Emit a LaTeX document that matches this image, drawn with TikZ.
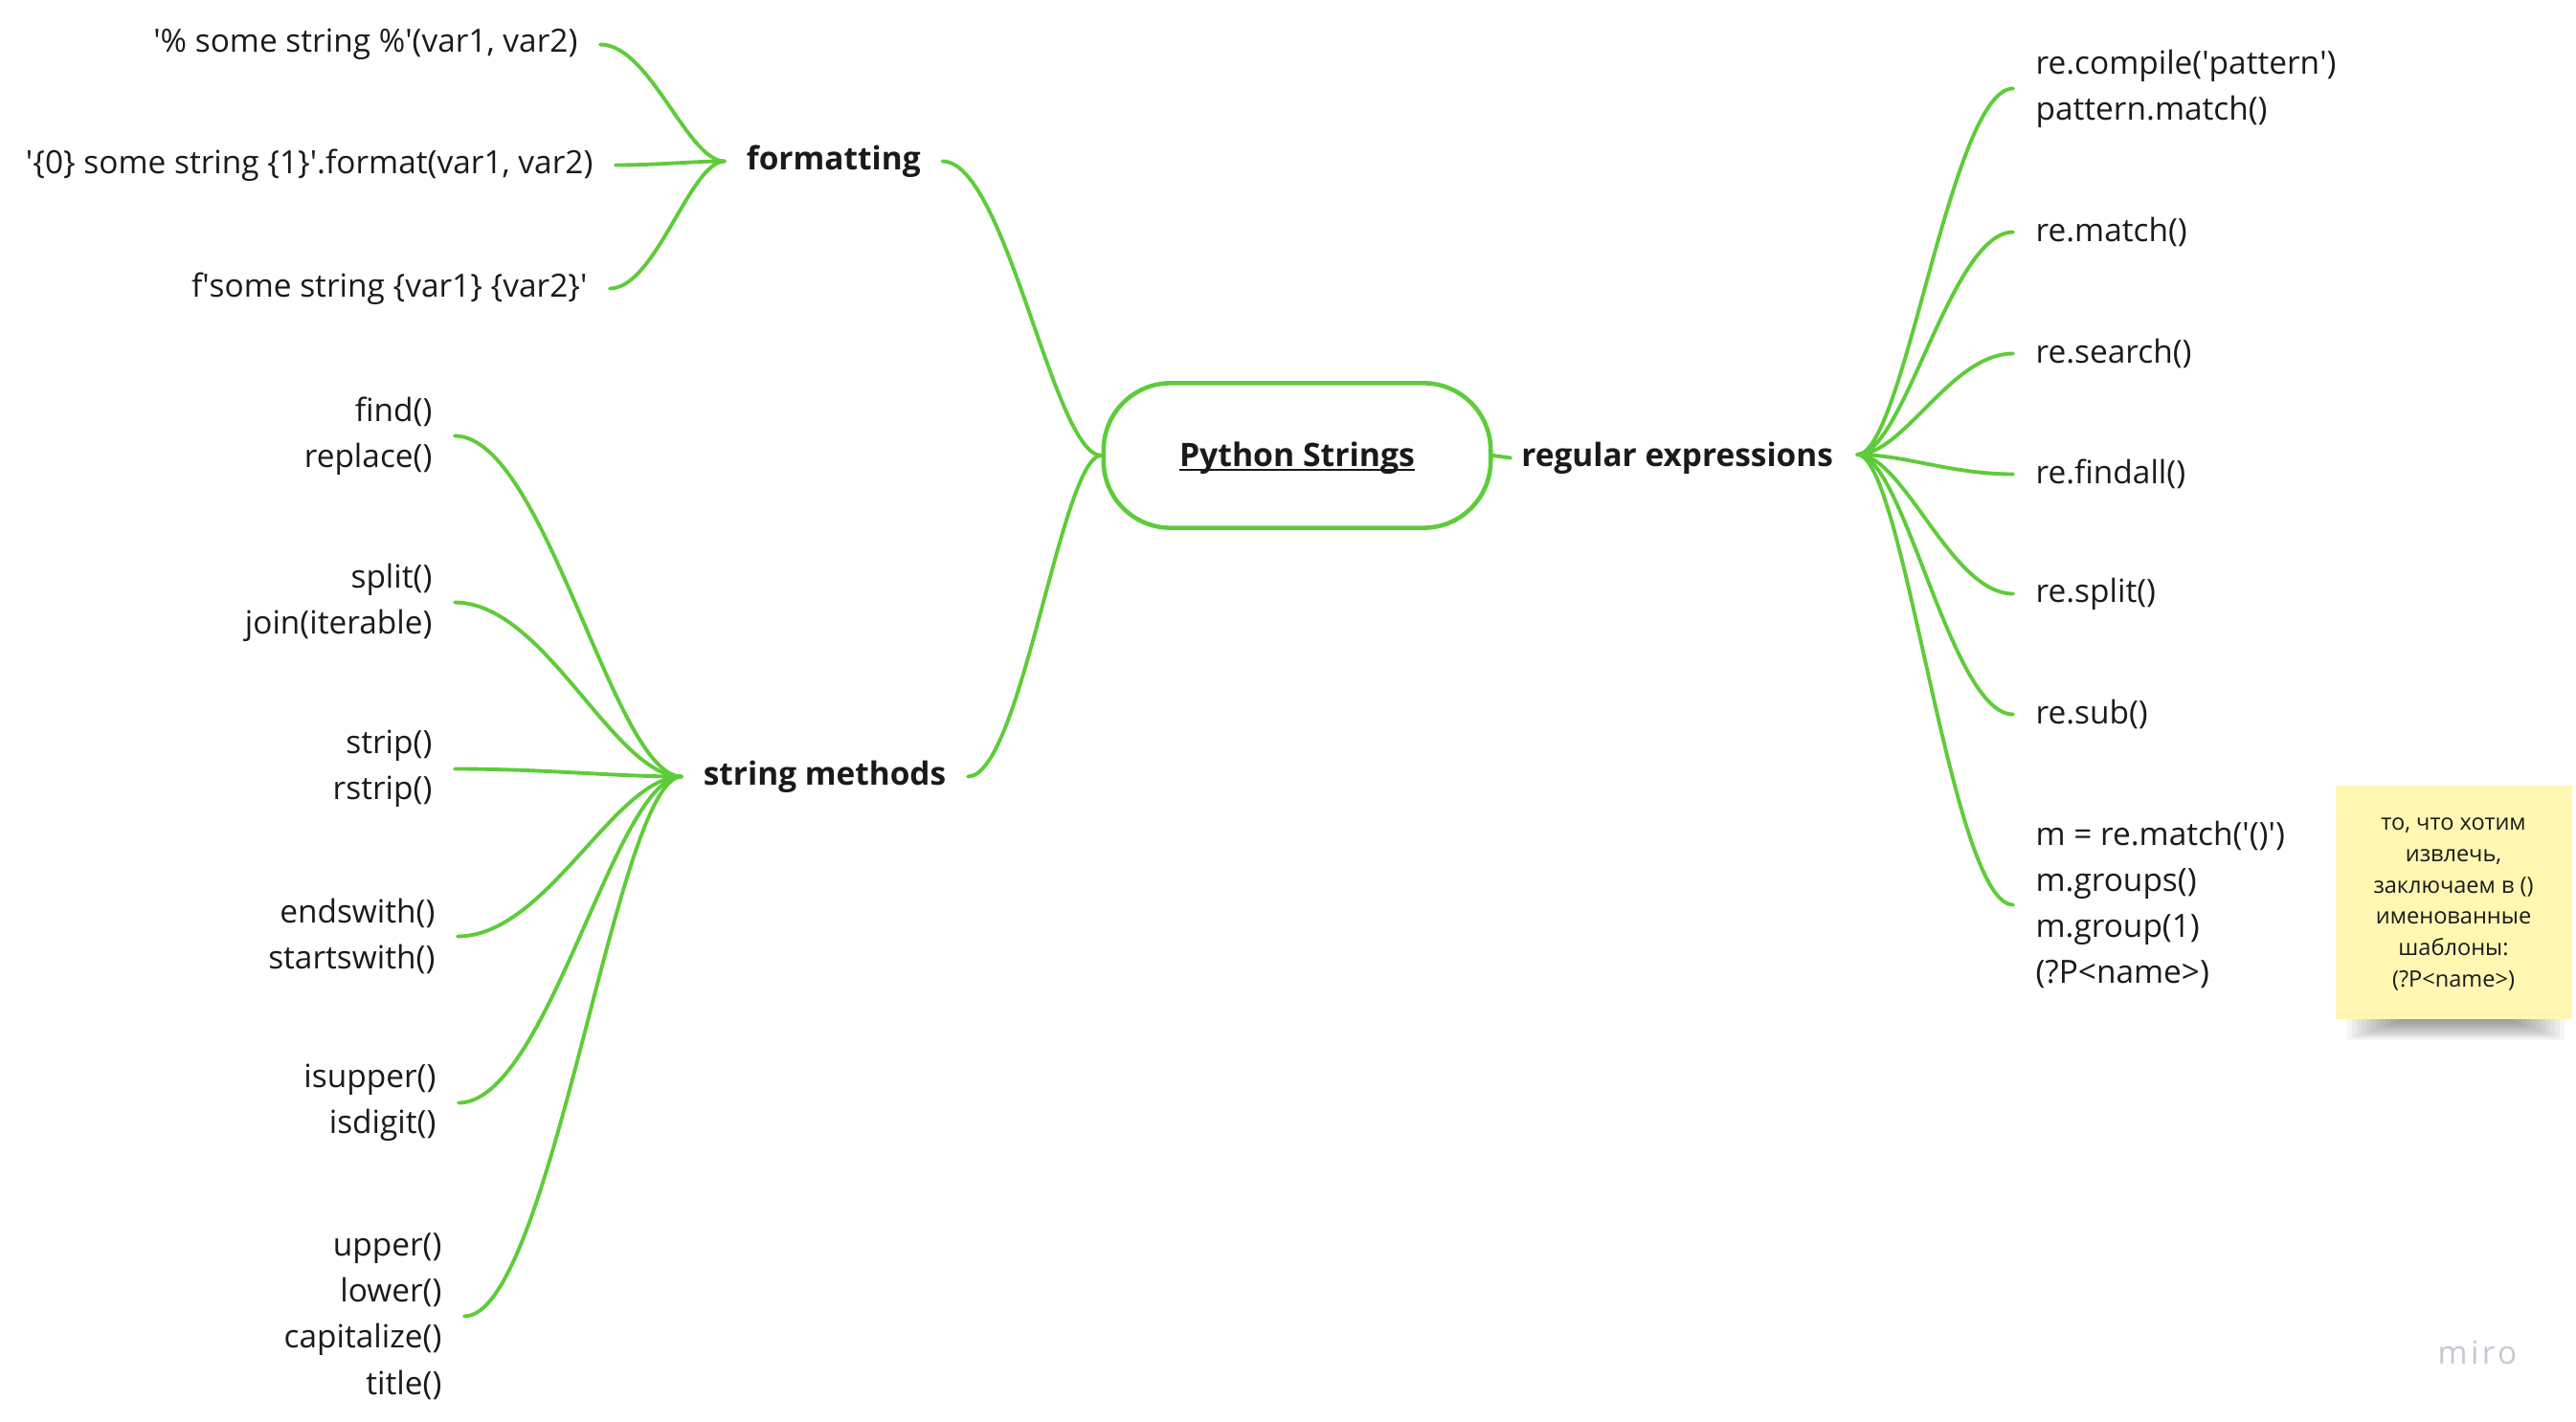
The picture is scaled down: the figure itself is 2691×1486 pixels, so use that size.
\documentclass[tikz,border=0pt]{standalone}
\usepackage{fontspec}
\setmainfont{Open Sans}
\newfontfamily\logofont[LetterSpace=10]{Open Sans}
\usetikzlibrary{calc}
\definecolor{mapgreen}{RGB}{93,204,56}
\definecolor{inkblack}{RGB}{26,26,26}
\definecolor{noteyellow}{RGB}{255,247,178}
\definecolor{logogray}{RGB}{200,200,210}
\newcommand\squote{\textquotesingle}
\newcommand\baseline[1]{\setbox0=\hbox{#1}\rlap{\rule[-1.4pt]{\wd0}{0.8pt}}\box0}
\tikzset{
  link/.style={draw=mapgreen, line width=1.1pt, line cap=round},
  branch/.style={to path={.. controls ($(\tikztostart)!.4!(\tikztotarget |- \tikztostart)$) and ($(\tikztotarget)!.3!(\tikztostart |- \tikztotarget)$) .. (\tikztotarget)}},
  leafL/.style={anchor=east, align=right, inner xsep=6.5pt, inner ysep=0pt, yshift=-1pt, text=inkblack, font=\fontsize{9.5}{13.7}\selectfont},
  leafR/.style={anchor=west, align=left, inner xsep=6.5pt, inner ysep=0pt, yshift=-1pt, text=inkblack, font=\fontsize{9.5}{13.7}\selectfont},
  topic/.style={anchor=west, inner xsep=6.3pt, inner ysep=0pt, yshift=-1pt, text=inkblack, font=\fontsize{9.5}{13.7}\selectfont\bfseries},
  rootbox/.style={draw=mapgreen, line width=1.3pt, rounded corners=0.7cm, minimum width=115pt, minimum height=43pt, text depth=0.8pt, text=inkblack, font=\fontsize{9.6}{13.7}\selectfont\bfseries},
  notetext/.style={align=center, inner sep=0pt, text=inkblack, font=\fontsize{6.7}{9.3}\selectfont},
}
\begin{document}
\begin{tikzpicture}[x=0.01cm, y=-0.01cm]
\useasboundingbox (0,0) rectangle (2691,1486);

\node[rootbox] (root) at (1355,476) {\baseline{Python Strings}};
\node[topic] (fmt) at (757,165) {formatting};
\node[topic] (meth) at (712,808) {string methods};
\node[topic, inner xsep=3pt] (regex) at (1578,475) {regular expressions};
\coordinate (rehub) at ([xshift=4pt,yshift=1pt]regex.east);

\node[leafL] (f1) at (627,43) {\squote\% some string \%\squote(var1, var2)};
\node[leafL] (f2) at (643,169) {\squote\{0\} some string \{1\}\squote.format(var1, var2)};
\node[leafL] (f3) at (637,298) {f\squote{}some string \{var1\} \{var2\}\squote};

\node[leafL] (m1) at (475,452) {find()\\replace()};
\node[leafL] (m2) at (475,626) {split()\\join(iterable)};
\node[leafL] (m3) at (475,800) {strip()\\rstrip()};
\node[leafL] (m4) at (478,975) {endswith()\\startswith()};
\node[leafL] (m5) at (479,1149) {isupper()\\isdigit()};
\node[leafL] (m6) at (485,1372) {upper()\\lower()\\capitalize()\\title()};

\node[leafR] (r1) at (2103,89) {re.compile(\squote{}pattern\squote)\\pattern.match()};
\node[leafR] (r2) at (2103,239) {re.match()};
\node[leafR] (r3) at (2103,366) {re.search()};
\node[leafR] (r4) at (2103,492) {re.findall()};
\node[leafR] (r5) at (2103,617) {re.split()};
\node[leafR] (r6) at (2103,743) {re.sub()};
\node[leafR] (r7) at (2103,942) {m = re.match(\squote()\squote)\\m.groups()\\m.group(1)\\(?P<name>)};

\draw[link] (fmt.east) to[branch] (root.west);
\draw[link] (meth.east) to[branch] (root.west);
\draw[link] (root.east) -- (regex.west);
\foreach \leaf in {f1,f2,f3}
  \draw[link] (\leaf.east) to[branch] (fmt.west);
\foreach \leaf in {m1,m2,m3,m4,m5,m6}
  \draw[link] (\leaf.east) to[branch] (meth.west);
\foreach \leaf in {r1,r2,r3,r4,r5,r6,r7}
  \draw[link] (\leaf.west) to[branch] (rehub);

% sticky note with its shadow
\coordinate (nsw) at (2440,1055);
\coordinate (nse) at (2687,1055);
\foreach \i in {0,...,11}
  \fill[black, opacity=.04] ($(nsw)+(12+5*\i,0)$) rectangle ($(nse)+(-8-5*\i,32-1.8*\i)$);
\fill[noteyellow] (2440,821) rectangle (2687,1065);
\node[notetext] (note) at (2563,945) {то, что хотим\\извлечь,\\заключаем в ()\\именованные\\шаблоны:\\(?P<name>)};

\node[text=logogray, font=\logofont\fontsize{9.5}{11}\selectfont] (logo) at (2588,1413) {miro};
\end{tikzpicture}
\end{document}
